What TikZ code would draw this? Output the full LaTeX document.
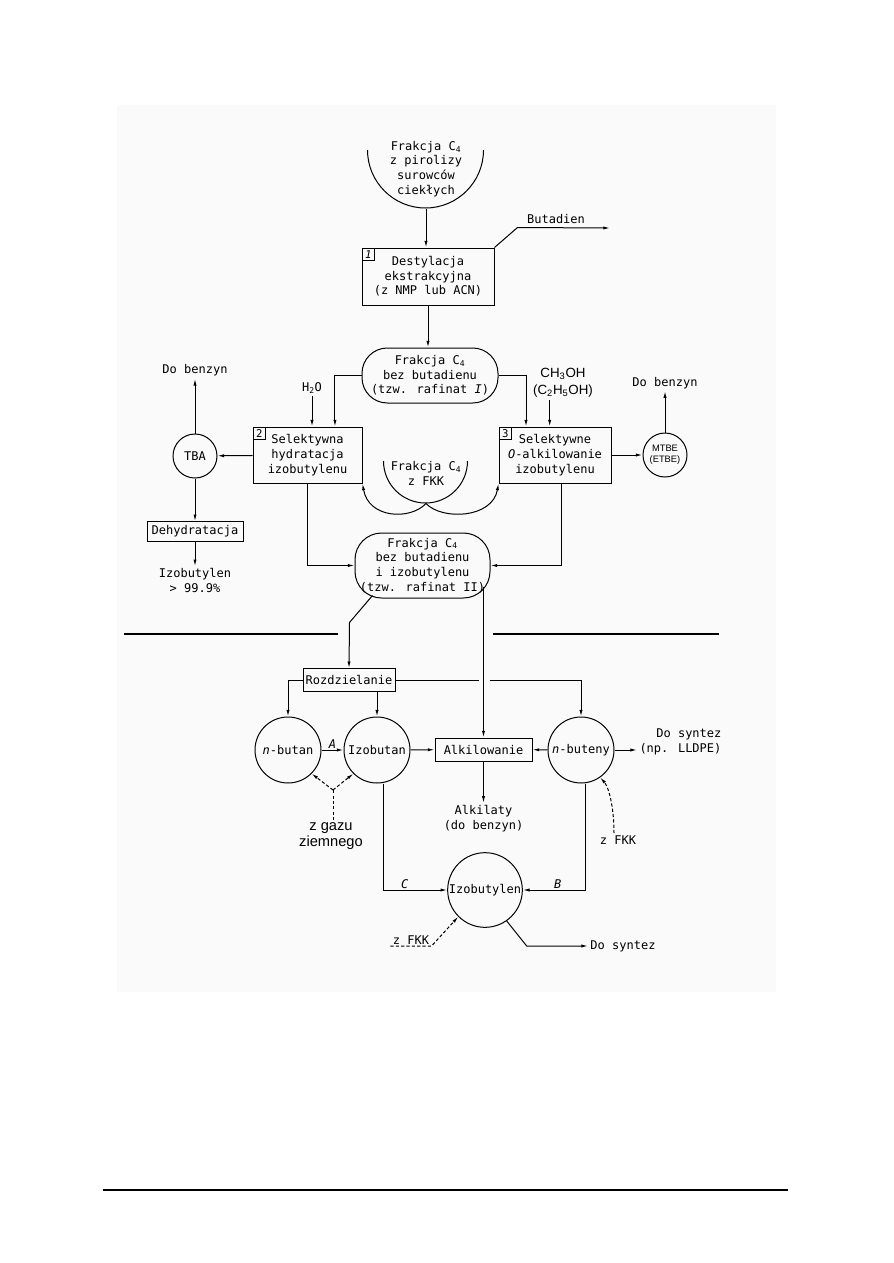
\documentclass[tikz,border=0pt]{standalone}
\usepackage{fontspec}
\setmainfont{DejaVu Sans Mono}
\newfontfamily\arialfont{Liberation Sans}
\usepackage{tikz}
\usetikzlibrary{
  arrows.meta,
  positioning,
  calc
}
\newcommand{\monotxt}{\fontsize{9}{11}\selectfont}

\begin{document}
\begin{tikzpicture}[
  x=0.75pt, y=-0.75pt,
  line width=0.75pt,
  every node/.style={font=\monotxt},
  box/.style={rectangle, draw, align=center, inner sep=1pt},
  tagbox/.style={rectangle, draw, line width=0.6pt, minimum size=9.5pt,
    inner sep=0pt, font=\fontsize{8}{8}\selectfont},
  circ/.style={circle, draw, align=center, inner sep=0.5pt},
  lbl/.style={align=center, inner sep=1.5pt},
  sanslbl/.style={align=center, inner sep=1.5pt,
    font=\arialfont\fontsize{11}{12}\selectfont},
  letter/.style={inner sep=1pt, font=\monotxt\itshape},
  arr/.style={-{Latex[length=5pt, width=2.4pt]}},
  dashln/.style={dash pattern=on 2.4pt off 1.6pt},
  dasharr/.style={arr, dashln},
  sep/.style={line width=1.4pt}
]
  \useasboundingbox (0,0) rectangle (893,1263);
  \fill[black!2] (117,105) rectangle (776,992);

  % upper part
  \node[circle, minimum size=87pt, inner sep=0pt] (src) at (426,150) {};
  \node[lbl] (srcTxt) at (426,169) {Frakcja C\textsubscript{4}\\z pirolizy\\surowców\\ciekłych};
  \draw (src.west) arc[start angle=180, end angle=360, radius=43.5pt];

  \node[box, minimum width=99pt, minimum height=42.75pt] (box1) at (428,276.5)
    {Destylacja\\ekstrakcyjna\\(z NMP lub ACN)};
  \node[tagbox, anchor=north west] (tag1) at (box1.north west) {\textit{1}};
  \node[lbl] (butOut) at (556,219) {Butadien};
  \coordinate (butEnd) at (610,228);

  \node[box, rounded corners=19pt, minimum width=102pt, minimum height=41.25pt]
    (raf1) at (430,375.5) {Frakcja C\textsubscript{4}\\bez butadienu\\(tzw. rafinat \textit{I})};

  \node[box, minimum width=81.75pt, minimum height=42pt] (box2) at (307.5,455)
    {Selektywna\\hydratacja\\izobutylenu};
  \node[tagbox, anchor=north west] (tag2) at (box2.north west) {2};
  \node[box, minimum width=84pt, minimum height=42pt] (box3) at (555,455)
    {Selektywne\\\textit{O}-alkilowanie\\izobutylenu};
  \node[tagbox, anchor=north west] (tag3) at (box3.north west) {3};

  \node[lbl] (h2o) at (312,388) {H\textsubscript{2}O};
  \node[sanslbl, font=\arialfont\fontsize{10}{12.5}\selectfont] (meoh) at (563,383)
    {CH\textsubscript{3}OH\\(C\textsubscript{2}H\textsubscript{5}OH)};
  \coordinate (meohIn) at ([xshift=-10pt]meoh.south);

  \node[circ, minimum size=33pt] (tba) at (195,456) {TBA};
  \node[lbl, above=41pt of tba] (tbaOut) {Do benzyn};
  \node[box, minimum width=72pt, minimum height=15pt, below=32pt of tba] (dehyd) {Dehydratacja};
  \node[lbl, below=18pt of dehyd] (izo99) {Izobutylen\\> 99.9\%};

  \node[circ, minimum size=33pt, font=\arialfont\fontsize{7}{8}\selectfont] (mtbe) at (665,455) {MTBE\\(ETBE)};
  \node[lbl, above=31pt of mtbe] (mtbeOut) {Do benzyn};

  \node[circle, minimum size=63pt, inner sep=0pt] (fkk) at (426,461) {};
  \node[lbl] (fkkTxt) at (426,473.5) {Frakcja C\textsubscript{4}\\z FKK};
  \draw (fkk.west) arc[start angle=180, end angle=360, radius=31.5pt];

  \node[box, rounded corners=20pt, minimum width=101.25pt, minimum height=48.75pt]
    (raf2) at (422.5,565.5) {Frakcja C\textsubscript{4}\\bez butadienu\\i izobutylenu\\(tzw. rafinat II)};

  \draw[arr] (src.south) -- (src.south |- box1.north);
  \draw[arr] (box1.north east) -- ++(23,-20) -- (butEnd);
  \draw[arr] (box1.south) -- (box1.south |- raf1.north);
  \draw[arr] (raf1.west) -| ([xshift=20.6pt]box2.north);
  \draw[arr] (raf1.east) -| ([xshift=-21.75pt]box3.north);
  \draw[arr] (h2o) -- (h2o |- box2.north);
  \draw[arr] (meohIn) -- (meohIn |- box3.north);
  \draw[arr] (fkk.south) .. controls +(-16,17) and +(6,35) .. (box2.south east);
  \draw[arr] (fkk.south) .. controls +(16,17) and +(-6,35) .. (box3.south west);
  \draw[arr] (box2.south) |- (raf2.west);
  \draw[arr] ([xshift=5pt]box3.south) |- (raf2.east);

  \draw[sep] (124,634) -- (338,634);
  \draw[sep] (493,634) -- (719,634);

  % lower part
  \node[box, minimum width=69pt, minimum height=17pt] (rozdz) at (349,680) {Rozdzielanie};
  \node[circ, minimum size=49.5pt] (nbutan) at (288,750) {\textit{n}-butan};
  \node[circ, minimum size=49.5pt] (izobutan) at (377,750) {Izobutan};
  \node[box, minimum width=72.75pt, minimum height=17.25pt] (alkil) at (483.5,749.5) {Alkilowanie};
  \node[circ, minimum size=49.5pt] (nbuteny) at (581,750) {\textit{n}-buteny};
  \node[lbl, below=31pt of alkil] (alkilaty) {Alkilaty\\(do benzyn)};
  \node[lbl, align=right, anchor=west] (synt1) at (637,742) {Do syntez\\(np. LLDPE)};
  \node[circ, minimum size=56pt] (izobl) at (485,890) {Izobutylen};
  \node[sanslbl] (gas) at (331,836) {z gazu\\ziemnego};
  \coordinate (gasJ) at (333,790);
  \node[lbl] (fkkR) at (618,840) {z FKK};
  \node[lbl, anchor=base] (fkkL) at (411,944) {z FKK};
  \node[lbl] (synt2) at (623,946) {Do syntez};

  \draw[arr] ($(raf2.south)+(-50,-3)$) -- ++(-23,27) -- (rozdz.north);
  \draw[arr] ($(raf2.south -| alkil.north)+(0,-12)$) -- (alkil.north);
  \draw[arr] (rozdz.west) -| (nbutan.north);
  \draw[arr] (izobutan.north |- rozdz.south) -- (izobutan.north);
  \draw (rozdz.east) -- ++(83,0);
  \draw[arr] ($(rozdz.east)+(94,0)$) -| (nbuteny.north);
  \draw[arr] (nbutan) -- node[letter, above] {A} (izobutan);
  \draw[arr] (nbuteny.east) -- (nbuteny.east -| synt1.west);
  \draw[arr] ([xshift=4.5pt]izobutan.south) |- node[letter, pos=0.67, above] {C} (izobl.west);
  \draw[arr] ([xshift=3pt]nbuteny.south) |- node[letter, pos=0.72, above] {B} (izobl.east);
  \draw[arr] (izobl.-55) -- ++(20,25) -- (synt2.west);

  \foreach \f/\t in {box2/tba, tba/tbaOut, tba/dehyd, dehyd/izo99,
                     box3/mtbe, mtbe/mtbeOut,
                     izobutan/alkil, nbuteny/alkil, alkil/alkilaty} {
    \draw[arr] (\f) -- (\t);
  }

  % dashed feeds
  \draw[dashln] (gas.north -| gasJ) -- (gasJ);
  \draw[dasharr] (gasJ) -- (nbutan.-45);
  \draw[dasharr] (gasJ) -- (izobutan.-135);
  \draw[dasharr] ([xshift=-3pt]fkkR.north) .. controls +(0,-28) and +(8,9) .. (nbuteny.-55);
  \draw[dasharr] ([yshift=-1.5pt]fkkL.base west) -- ([yshift=-1.5pt]fkkL.base east) -- (izobl.-135);

  \draw[line width=1.1pt] (103,1190) -- (788,1190);
\end{tikzpicture}
\end{document}
